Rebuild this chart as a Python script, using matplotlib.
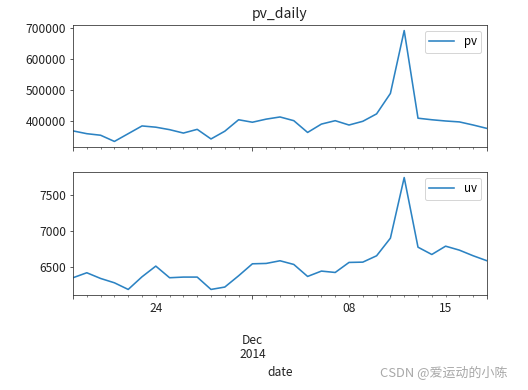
import matplotlib
matplotlib.use("Agg")
import matplotlib.pyplot as plt
import matplotlib.dates as mdates
import matplotlib.ticker as mticker
import numpy as np
import pandas as pd

plt.rcParams['font.family'] = ['Noto Sans CJK SC', 'DejaVu Sans']

dates = pd.date_range("2014-11-18", "2014-12-18", freq="D")
pv = [368000, 359000, 354000, 334000, 359000, 384000, 380000, 372000, 361000,
      373000, 342000, 367000, 404000, 396000, 406000, 413000, 401000, 363000,
      390000, 401000, 387000, 399000, 423000, 489000, 692000, 409000, 404000,
      400000, 397000, 387000, 376000]
uv = [6353, 6422, 6343, 6283, 6191, 6366, 6514, 6353, 6362, 6362, 6191, 6224,
      6380, 6546, 6551, 6588, 6537, 6371, 6445, 6426, 6565, 6569, 6657, 6901,
      7740, 6776, 6675, 6790, 6735, 6657, 6588]
day_labels = {"2014-11-24": "24", "2014-12-08": "08", "2014-12-15": "15"}
month_label = "Dec\n2014"

W, H, DPI = 528, 390, 72
fig = plt.figure(figsize=(W / DPI, H / DPI), dpi=DPI)
left, right = 73 / W, 487 / W
ax1 = fig.add_axes([left, 1 - 147 / H, right - left, (147 - 25) / H])
ax2 = fig.add_axes([left, 1 - 295 / H, right - left, (295 - 172) / H], sharex=ax1)

color = '#2c83c3'
ax1.plot(dates, pv, color=color, lw=1.6, label='pv')
ax2.plot(dates, uv, color=color, lw=1.6, label='uv')

fs = 12
for ax in (ax1, ax2):
    ax.set_xlim(dates[0], dates[-1])
    ax.tick_params(axis='y', labelsize=fs, length=3.5, colors='#333333', labelcolor='#222222')
    ax.xaxis.set_minor_locator(mdates.DayLocator())
    ax.xaxis.set_major_locator(mticker.FixedLocator(
        mdates.date2num([dates[0], pd.Timestamp("2014-12-01"), dates[-1]])))
    ax.tick_params(axis='x', which='minor', length=2, colors='#333333')
    ax.tick_params(axis='x', which='major', length=4, colors='#333333')
    for s in ax.spines.values():
        s.set_color('#333333')
    ax.legend(loc='upper right', fontsize=11.5, handlelength=2.2, borderpad=0.4,
              fancybox=True, framealpha=0.8, edgecolor='#cccccc')

ax1.set_yticks([400000, 500000, 600000, 700000])
ax1.set_ylim(316000, 710000)
ax2.set_yticks([6500, 7000, 7500])
ax2.set_ylim(6114, 7817)

def minor_fmt(x, pos):
    d = mdates.num2date(x).strftime("%Y-%m-%d")
    return day_labels.get(d, "")

def major_fmt(x, pos):
    d = mdates.num2date(x).strftime("%Y-%m-%d")
    return "\n\n" + month_label if d == "2014-12-01" else ""

ax1.tick_params(axis='x', which='both', labelbottom=False)
ax2.xaxis.set_minor_formatter(mticker.FuncFormatter(minor_fmt))
ax2.xaxis.set_major_formatter(mticker.FuncFormatter(major_fmt))
ax2.tick_params(axis='x', which='minor', labelsize=fs, labelcolor='#222222', pad=5)
ax2.tick_params(axis='x', which='major', labelsize=fs, labelcolor='#222222', pad=7)
for lbl in ax2.xaxis.get_majorticklabels():
    lbl.set_linespacing(1.1)

ax1.set_title("pv_daily", fontsize=14, color='#222222', pad=7)
ax2.set_xlabel("date", fontsize=fs, color='#222222', labelpad=5)

fig.text(507 / W, 1 - 372 / H, "CSDN @爱运动的小陈", fontsize=13, color='#a8a8a8',
         ha='right', va='center')

fig.savefig("out.png", dpi=DPI)
